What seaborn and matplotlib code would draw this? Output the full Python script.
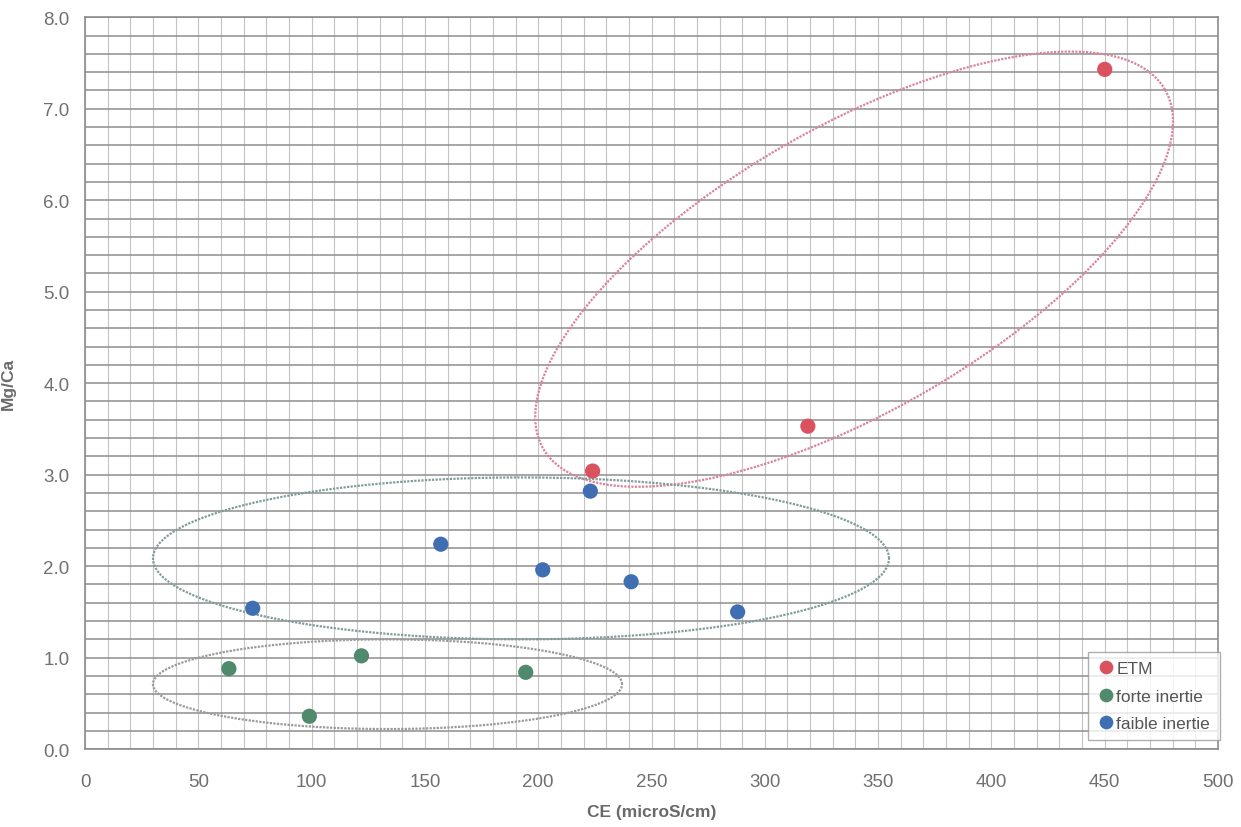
import numpy as np
import pandas as pd
import seaborn as sns
import matplotlib.pyplot as plt
from matplotlib.ticker import MultipleLocator

# data
etm_ce = [224, 319, 450]
etm_mgca = [3.04, 3.53, 7.43]
forte_ce = [63.5, 99, 122, 194.5]
forte_mgca = [0.88, 0.36, 1.02, 0.84]
faible_ce = [74, 157, 202, 223, 241, 288]
faible_mgca = [1.54, 2.24, 1.96, 2.82, 1.83, 1.50]

groups = ["ETM", "forte inertie", "faible inertie"]
colors = ["#d9525e", "#4f8a6c", "#3f6fb2"]

df = pd.DataFrame({
    "CE": etm_ce + forte_ce + faible_ce,
    "MgCa": etm_mgca + forte_mgca + faible_mgca,
    "groupe": [groups[0]] * len(etm_ce) + [groups[1]] * len(forte_ce) + [groups[2]] * len(faible_ce),
})

sns.set_style("white")
plt.rcParams['font.family'] = ['Liberation Sans', 'DejaVu Sans']

fig = plt.figure(figsize=(12.41, 8.28), dpi=100)
ax = fig.add_axes([0.0685, 0.094, 0.913, 0.884])

# dense background grid
ax.set_xlim(0, 500)
ax.set_ylim(0, 8)
ax.xaxis.set_major_locator(MultipleLocator(50))
ax.xaxis.set_minor_locator(MultipleLocator(10))
ax.yaxis.set_major_locator(MultipleLocator(1))
ax.yaxis.set_minor_locator(MultipleLocator(0.2))
ax.grid(True, which="both", axis="y", color="#8e8e8e", lw=1.1)
ax.grid(True, which="both", axis="x", color="#c4c4c4", lw=0.8)
ax.set_axisbelow(True)

# ellipses grouping the points (center + two semi-axis vectors, data units)
t = np.linspace(0, 2 * np.pi, 400)
ellipses = [
    ((339.4, 5.246), (137.2, 1.962), (-31.3, 1.344), "#d9849a"),
    ((192.4, 2.085), (162.4, 0.0), (0.0, 0.885), "#7f9c9a"),
    ((133.5, 0.71), (103.5, 0.0), (0.0, 0.49), "#9a9a9a"),
]
for (cx, cy), (ux, uy), (vx, vy), c in ellipses:
    ax.plot(cx + ux * np.cos(t) + vx * np.sin(t), cy + uy * np.cos(t) + vy * np.sin(t),
            color=c, lw=1.6, ls=(0, (1, 0.6)), zorder=2)

sns.scatterplot(data=df, x="CE", y="MgCa", hue="groupe", hue_order=groups,
                palette=colors, s=120, edgecolor="none", ax=ax, zorder=3)

for sp in ax.spines.values():
    sp.set_color("#8c8c8c")
    sp.set_linewidth(1.2)
ax.tick_params(which="major", length=5, color="#8c8c8c", labelsize=13.5, labelcolor="#707070")
ax.tick_params(axis="x", pad=12)
ax.tick_params(axis="y", pad=6)
ax.tick_params(which="minor", length=0)
ax.set_xticks(range(0, 501, 50))
ax.set_yticks(np.arange(0, 8.1, 1))
ax.set_yticklabels([f"{v:.1f}" for v in np.arange(0, 8.1, 1)])

ax.set_xlabel("CE (microS/cm)", fontsize=12.5, fontweight="bold", color="#6a6a6a", labelpad=10)
ax.set_ylabel("Mg/Ca", fontsize=12.5, fontweight="bold", color="#6a6a6a", labelpad=20)

leg = ax.legend(loc="lower right", bbox_to_anchor=(1.009, 0.0), fontsize=12.5,
                frameon=True, fancybox=False, handletextpad=0.1, borderpad=0.55,
                labelspacing=0.7, handlelength=1.0, markerscale=0.9)
leg.get_frame().set_edgecolor("#9a9a9a")
leg.get_frame().set_linewidth(1.0)
for txt in leg.get_texts():
    txt.set_color("#555555")

plt.savefig("out.png", dpi=100)
